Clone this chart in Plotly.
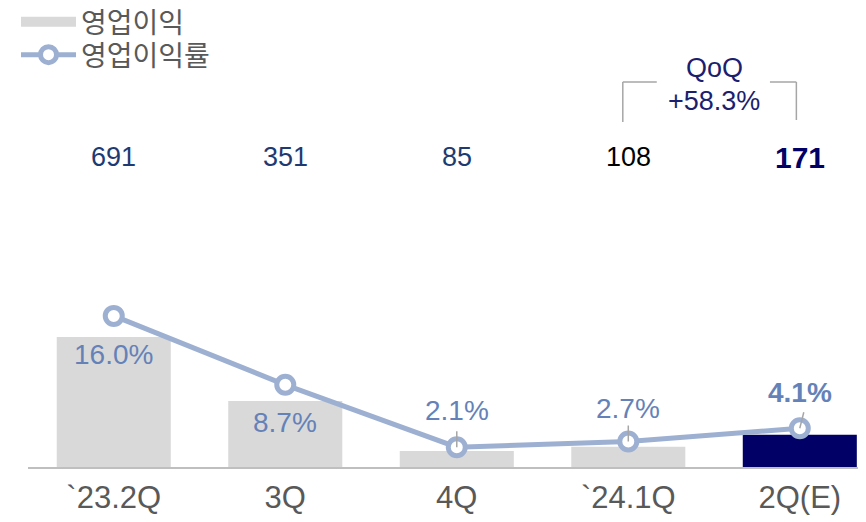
import plotly.graph_objects as go

categories = ["`23.2Q", "3Q", "4Q", "`24.1Q", "2Q(E)"]
op_profit = [691, 351, 85, 108, 171]
op_margin = [16.0, 8.7, 2.1, 2.7, 4.1]
margin_labels = ["16.0%", "8.7%", "2.1%", "2.7%", "4.1%"]
profit_labels = ["691", "351", "85", "108", "171"]
qoq_lines = ["QoQ", "+58.3%"]
series_names = ["영업이익", "영업이익률"]

FONT = "Liberation Sans, Arial, Noto Sans CJK KR, sans-serif"
GRAY_BAR = "#D9D9D9"
bar_colors = [GRAY_BAR] * 4 + ["#000066"]
line_color = "#9DB0D2"
pct_color = "#6482B8"

W, H = 858, 514
ML, MB = 20, 55
PH = H - MB  # plot height in px


def py(px_from_top):
    return 1 - px_from_top / PH


fig = go.Figure()
fig.add_trace(go.Bar(
    x=categories, y=op_profit, name=series_names[0],
    marker=dict(color=bar_colors, line=dict(width=0)),
    width=0.665, yaxis="y", showlegend=False,
))
# legend entry for the bars (wide gray swatch like the reference)
fig.add_trace(go.Scatter(
    x=[None], y=[None], name=series_names[0], mode="lines",
    line=dict(color=GRAY_BAR, width=14), legend="legend",
))
fig.add_trace(go.Scatter(
    x=categories, y=op_margin, name=series_names[1], yaxis="y2",
    mode="lines+markers",
    line=dict(color=line_color, width=5),
    marker=dict(size=17, color="white", line=dict(color=line_color, width=5)),
    legend="legend2",
))

# percent labels
shifts = [-39, -38, 37, 33, 36]
tilt = [0, 0, 0, 0, 4]
for i, (c, v, t) in enumerate(zip(categories, op_margin, margin_labels)):
    bold = i == len(categories) - 1
    fig.add_annotation(
        x=c, y=v, xref="x", yref="y2", text=f"<b>{t}</b>" if bold else t,
        showarrow=False, yshift=shifts[i],
        font=dict(family=FONT, size=28, color=pct_color),
    )
    if shifts[i] > 0:
        fig.add_shape(type="line", xref="x", yref="y2",
                      xsizemode="pixel", xanchor=i, x0=0, x1=tilt[i],
                      ysizemode="pixel", yanchor=v, y0=0, y1=16,
                      line=dict(color="#A6A6A6", width=1.5))

# top value labels
for i, (c, t) in enumerate(zip(categories, profit_labels)):
    last = i == len(categories) - 1
    color = "#000066" if last else ("#000000" if i == 3 else "#1F3A70")
    fig.add_annotation(
        x=c, y=py(157 - 8), xref="x", yref="paper", yanchor="middle",
        text=f"<b>{t}</b>" if last else t, showarrow=False,
        font=dict(family=FONT, size=30 if last else 27, color=color),
    )

# QoQ bracket
for k, (t, yy) in enumerate(zip(qoq_lines, [68, 101])):
    fig.add_annotation(
        x=3.5, y=py(yy - 8), xref="x", yref="paper", yanchor="middle",
        text=t, showarrow=False,
        font=dict(family=FONT, size=27, color="#1B1F6E"),
    )
bl = dict(color="#A6A6A6", width=1.5)
top = py(82 - 8)
fig.add_shape(type="line", xref="x", yref="paper", x0=2.968, x1=2.968,
              y0=py(122 - 8), y1=top, line=bl)
fig.add_shape(type="line", xref="x", yref="paper", x0=2.968, x1=3.166,
              y0=top, y1=top, line=bl)
fig.add_shape(type="line", xref="x", yref="paper", x0=3.826, x1=3.98,
              y0=top, y1=top, line=bl)
fig.add_shape(type="line", xref="x", yref="paper", x0=3.98, x1=3.98,
              y0=py(120 - 8), y1=top, line=bl)

leg = dict(xanchor="left", yanchor="middle", bgcolor="rgba(0,0,0,0)",
           font=dict(family=FONT, size=28, color="#595959"), itemwidth=55)

fig.update_layout(
    width=W, height=H,
    margin=dict(l=ML, r=0, t=0, b=MB, autoexpand=False),
    plot_bgcolor="white", paper_bgcolor="white",
    font=dict(family=FONT, color="#595959"),
    showlegend=True,
    legend=dict(x=-0.0143, y=py(22 - 8), **leg),
    legend2=dict(x=-0.0143, y=py(55 - 8), **leg),
    xaxis=dict(range=[-0.5, 4.386], showgrid=False, showline=True,
               linecolor="#BFBFBF", linewidth=2, ticks="outside", ticklen=2,
               tickcolor="rgba(0,0,0,0)", automargin=False,
               tickfont=dict(family=FONT, size=31, color="#595959")),
    yaxis=dict(range=[0, 2440], visible=False, showgrid=False, zeroline=False),
    yaxis2=dict(range=[0, 48.6], overlaying="y", visible=False,
                showgrid=False, zeroline=False),
)

fig.write_html("out.html")
